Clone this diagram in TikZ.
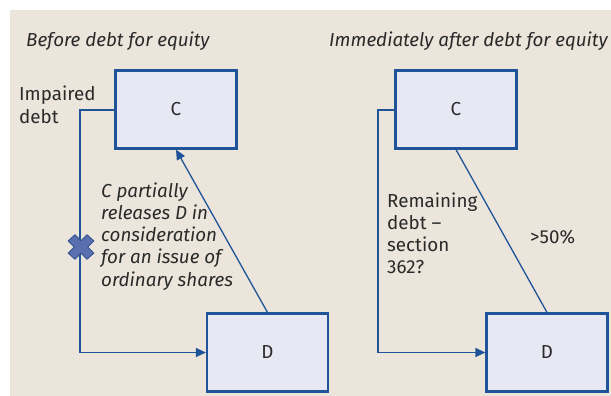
\documentclass[tikz,border=0pt]{standalone}
\usepackage{fontspec}
\setmainfont{Fira Sans}
\usetikzlibrary{arrows.meta}
\definecolor{paper}{HTML}{EBE5DB}
\definecolor{boxfill}{HTML}{E8E8F4}
\definecolor{boxline}{HTML}{1F5598}
\definecolor{ink}{HTML}{2A2A2A}
\definecolor{crossfill}{HTML}{5A70AE}
\definecolor{crossline}{HTML}{3A5596}
\newcommand{\stack}[1]{\begin{tabular}[t]{@{}l@{}}#1\end{tabular}}
\newcommand{\labelfont}{\fontsize{18.8}{22.3}\selectfont}
\tikzset{
  entity/.style={draw=boxline, fill=boxfill, line width=2.2pt, minimum width=121pt,
    minimum height=78pt, inner sep=0pt, text=ink, font=\labelfont},
  caption/.style={anchor=base west, inner sep=0pt, text=ink, font=\labelfont},
  heading/.style={caption, font=\labelfont\itshape},
  link/.style={draw=boxline, line width=1.3pt},
  tip/.style={-{Triangle[length=10pt,width=9pt]}},
}
\begin{document}
\begin{tikzpicture}[x=1pt,y=-1pt]
  \useasboundingbox (0,0) rectangle (611,396);
  \fill[white] (0,0) rectangle (611,396);
  \fill[paper] (10,10) rectangle (611,396);

  % headings
  \node[heading] (h1) at (26,47) {Before debt for equity};
  \node[heading] (h2) at (329,47) {Immediately after debt for equity};

  % companies before the swap
  \node[entity] (c1) at (176,109.5) {C};
  \node[entity] (d1) at (267.5,352.5) {D};
  % companies immediately after the swap
  \node[entity] (c2) at (456,109.5) {C};
  \node[entity] (d2) at (547,352.5) {D};

  % impaired debt loop, before
  \coordinate (k1) at (80,110);
  \coordinate (k2) at (80,352.5);
  \draw[link,tip] (c1.west |- k1) -- (k1) -- (k2) -- (d1.west);
  \draw[link,tip] (d1.north) -- (c1.south);

  % remaining debt loop, after
  \coordinate (k3) at (378,110);
  \coordinate (k4) at (378,352.5);
  \draw[link,tip] (c2.west |- k3) -- (k3) -- (k4) -- (d2.west);
  \draw[link] (c2.south) -- (d2.north);

  % cross marking the released debt
  \begin{scope}[shift={(81,247)}, scale=1.35]
    \fill[crossfill, draw=crossline, line width=1pt, line join=round]
      (-4.5,-9) -- (0,-4.5) -- (4.5,-9) -- (9.5,-4.5) -- (5,0) -- (9.5,4.5)
      -- (4.5,9) -- (0,4.5) -- (-4.5,9) -- (-9.5,4.5) -- (-5,0) -- (-9.5,-4.5) -- cycle;
  \end{scope}

  % labels
  \node[caption] (t1) at (19,101) {\stack{Impaired\\debt}};
  \node[caption, font=\labelfont\itshape] (t2) at (101,197)
    {\stack{C partially\\releases D in\\consideration\\for an issue of\\ordinary shares}};
  \node[caption] (t3) at (387,207) {\stack{Remaining\\debt –\\section\\362?}};
  \node[caption] (t4) at (530,243) {>50\%};
\end{tikzpicture}
\end{document}
